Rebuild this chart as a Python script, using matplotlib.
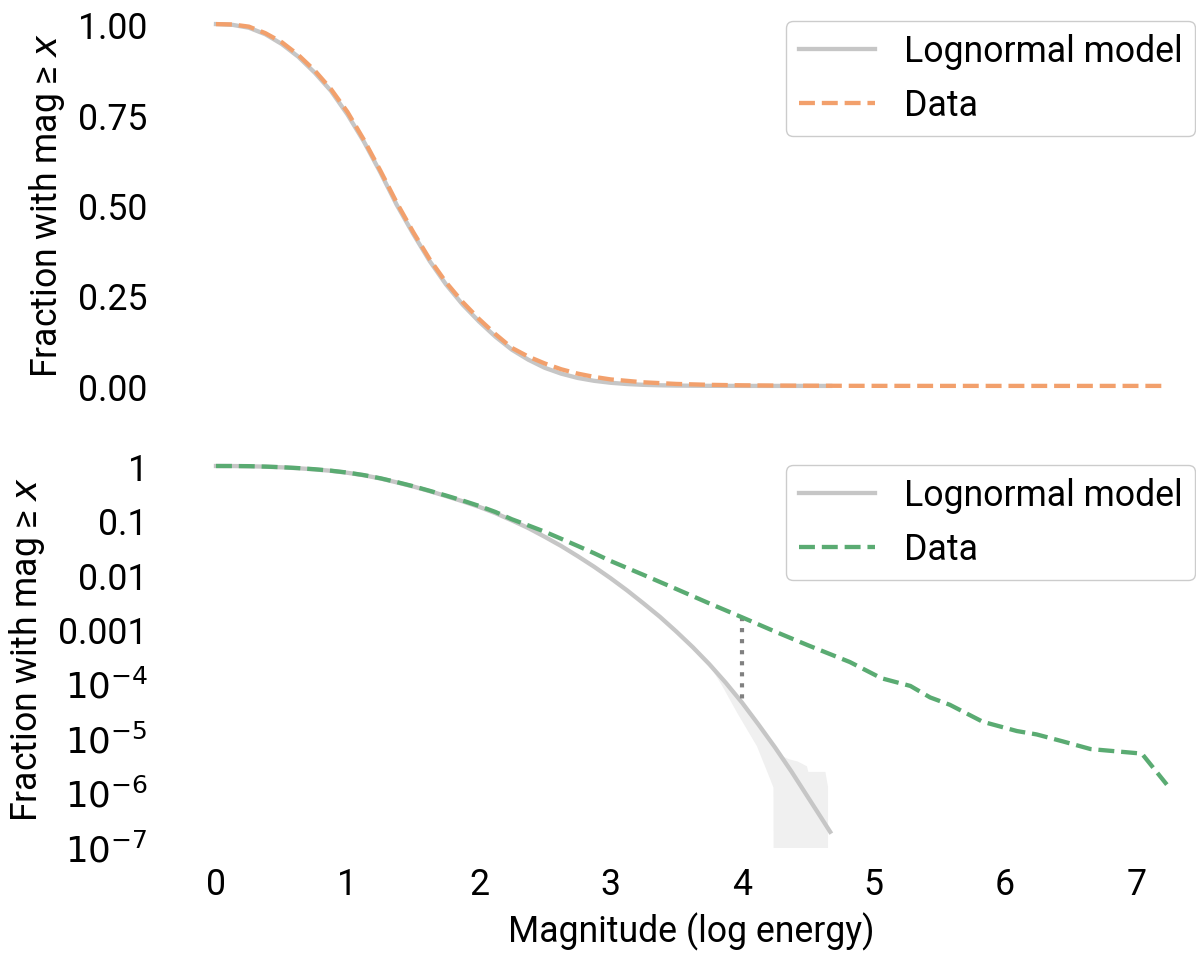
import matplotlib
matplotlib.use("Agg")
import matplotlib.pyplot as plt
from matplotlib.ticker import FixedLocator, FixedFormatter

# ---------------- data ----------------
model_x = [0.0, 0.125, 0.25, 0.375, 0.5, 0.625, 0.75, 0.875, 1.0, 1.125,
           1.25, 1.375, 1.5, 1.625, 1.75, 1.875, 2.0, 2.125, 2.25, 2.375,
           2.5, 2.625, 2.75, 2.875, 3.0, 3.125, 3.25, 3.375, 3.5, 3.625,
           3.75, 3.875, 4.0, 4.125, 4.25, 4.375, 4.5, 4.6, 4.67]
model_y = [1.0, 0.998, 0.99, 0.972, 0.945, 0.91, 0.866, 0.815, 0.75, 0.675,
           0.59, 0.50, 0.42, 0.345, 0.28, 0.225, 0.178, 0.136, 0.100, 0.0724,
           0.050, 0.0339, 0.0221, 0.0141, 0.0087, 5.2e-3, 3.0e-3, 1.7e-3,
           9.1e-4, 4.7e-4, 2.3e-4, 1.05e-4, 4.5e-5, 1.78e-5, 6.8e-6, 2.45e-6,
           8.3e-7, 3.5e-7, 1.9e-7]

data_x = [0.0, 0.125, 0.25, 0.375, 0.5, 0.625, 0.75, 0.875, 1.0, 1.125,
          1.25, 1.375, 1.5, 1.625, 1.75, 1.875, 2.0, 2.125, 2.25, 2.375,
          2.5, 2.625, 2.75, 2.875, 3.0, 3.25, 3.5, 3.75, 4.0, 4.25, 4.5,
          4.82, 5.06, 5.28, 5.43, 5.58, 5.83, 6.09, 6.24, 6.44, 6.65, 7.04,
          7.23]
data_y = [1.0, 0.999, 0.993, 0.975, 0.95, 0.915, 0.872, 0.82, 0.757, 0.68,
          0.595, 0.506, 0.425, 0.35, 0.286, 0.232, 0.185, 0.143, 0.105, 0.081,
          0.062, 0.046, 0.034, 0.025, 0.018, 0.010, 0.0055, 0.0030, 0.00166,
          9.1e-4, 5.1e-4, 2.5e-4, 1.26e-4, 9.1e-5, 5.6e-5, 4.1e-5, 2.0e-5,
          1.35e-5, 1.17e-5, 8.7e-6, 6.3e-6, 5.2e-6, 1.4e-6]

band_x = [3.70, 3.75, 3.85, 3.96, 4.11, 4.21, 4.235, 4.24, 4.30, 4.35, 4.42,
          4.49, 4.50, 4.63, 4.65]
band_lo = [3.0e-4, 2.2e-4, 8.9e-5, 2.95e-5, 7.2e-6, 1.8e-6, 1.26e-6, 1e-12,
           1e-12, 1e-12, 1e-12, 1e-12, 1e-12, 1e-12, 1e-12]
band_hi = [3.0e-4, 2.3e-4, 1.23e-4, 6.0e-5, 1.95e-5, 9.3e-6, 7.6e-6, 7.2e-6,
           4.8e-6, 4.2e-6, 3.8e-6, 3.1e-6, 2.45e-6, 2.45e-6, 1.3e-6]

gap_x = 4.0
gap_data = 1.66e-3
gap_model = 4.5e-5

x_ticks = [0, 1, 2, 3, 4, 5, 6, 7]
lin_ticks = [0.0, 0.25, 0.5, 0.75, 1.0]
lin_tick_labels = ["0.00", "0.25", "0.50", "0.75", "1.00"]
log_ticks = [1, 0.1, 0.01, 0.001, 1e-4, 1e-5, 1e-6, 1e-7]
log_tick_labels = ["1", "0.1", "0.01", "0.001", "$10^{-4}$", "$10^{-5}$",
                   "$10^{-6}$", "$10^{-7}$"]

labels = ["Lognormal model", "Data"]
ylabel = "Fraction with mag \u2265 $x$"
xlabel = "Magnitude (log energy)"

# ---------------- styling ----------------
plt.rcParams["font.family"] = ["Roboto", "DejaVu Sans"]
plt.rcParams["mathtext.fontset"] = "dejavusans"
FS = 25.7
GRAY = "#c6c6c6"
ORANGE = "#f2a06c"
GREEN = "#5aab72"

W, H = 1196, 954
fig = plt.figure(figsize=(W / 100, H / 100), dpi=100)

left_px, right_px = 168.5, 1213.0
ax1 = fig.add_axes([left_px / W, (H - 405) / H, (right_px - left_px) / W, 398 / H])
ax2 = fig.add_axes([left_px / W, (H - 848) / H, (right_px - left_px) / W, 397 / H],
                   sharex=ax1)

LW = 3.1
# top: linear
ax1.plot(model_x, model_y, color=GRAY, lw=LW, label=labels[0], zorder=2)
ax1.plot(data_x, data_y, color=ORANGE, lw=LW, ls="--", label=labels[1], zorder=3)
ax1.set_ylim(-0.05, 1.05)
ax1.set_xlim(-0.361, 7.581)
ax1.yaxis.set_major_locator(FixedLocator(lin_ticks))
ax1.yaxis.set_major_formatter(FixedFormatter(lin_tick_labels))

# bottom: log
ax2.set_yscale("log")
ax2.fill_between(band_x, band_lo, band_hi, color="#f0f0f0", lw=0, zorder=1)
ax2.plot(model_x, model_y, color=GRAY, lw=LW, label=labels[0], zorder=2)
ax2.plot(data_x, data_y, color=GREEN, lw=LW, ls="--", label=labels[1], zorder=3)
ax2.plot([gap_x, gap_x], [gap_data, gap_model], color="#808080", lw=3, ls=":",
         zorder=2.5)
ax2.set_ylim(10 ** -7.0, 10 ** 0.294)
ax2.yaxis.set_major_locator(FixedLocator(log_ticks))
ax2.yaxis.set_major_formatter(FixedFormatter(log_tick_labels))
ax2.yaxis.set_minor_locator(FixedLocator([]))
ax2.xaxis.set_major_locator(FixedLocator(x_ticks))

for ax in (ax1, ax2):
    for s in ax.spines.values():
        s.set_visible(False)
    ax.tick_params(axis="both", length=0, labelsize=FS)
    ax.tick_params(axis="y", pad=15)
    ax.tick_params(axis="x", pad=14)
    ax.set_ylabel(ylabel, fontsize=FS, labelpad=8)
ax1.tick_params(axis="x", labelbottom=False)
ax2.set_xlabel(xlabel, fontsize=FS, labelpad=6.5)

for ax, top_px in ((ax1, 22), (ax2, 466)):
    ax.legend(loc="upper right", bbox_to_anchor=(1195 / W, 1 - top_px / H),
              bbox_transform=fig.transFigure, borderaxespad=0, fontsize=FS,
              handlelength=2.15, handletextpad=0.8, borderpad=0.35,
              frameon=True, edgecolor="#cccccc", framealpha=1.0)

fig.savefig("out.png", dpi=100)
